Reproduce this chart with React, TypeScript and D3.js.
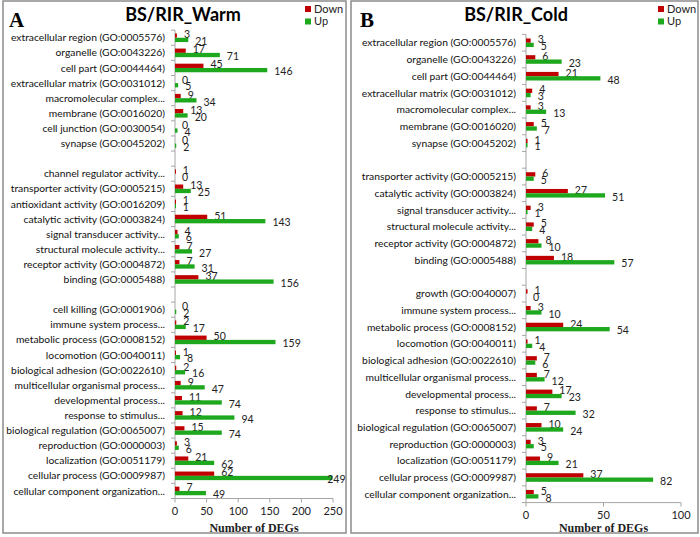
import React from 'react';
import * as d3 from 'd3';

const warmCategories = [
  'extracellular region (GO:0005576)',
  'organelle (GO:0043226)',
  'cell part (GO:0044464)',
  'extracellular matrix (GO:0031012)',
  'macromolecular complex...',
  'membrane (GO:0016020)',
  'cell junction (GO:0030054)',
  'synapse (GO:0045202)',
  '',
  'channel regulator activity...',
  'transporter activity (GO:0005215)',
  'antioxidant activity (GO:0016209)',
  'catalytic activity (GO:0003824)',
  'signal transducer activity...',
  'structural molecule activity...',
  'receptor activity (GO:0004872)',
  'binding (GO:0005488)',
  '',
  'cell killing (GO:0001906)',
  'immune system process...',
  'metabolic process (GO:0008152)',
  'locomotion (GO:0040011)',
  'biological adhesion (GO:0022610)',
  'multicellular organismal process...',
  'developmental process...',
  'response to stimulus...',
  'biological regulation (GO:0065007)',
  'reproduction (GO:0000003)',
  'localization (GO:0051179)',
  'cellular process (GO:0009987)',
  'cellular component organization...',
];
const warmDown: (number | null)[] = [3, 17, 45, 0, 9, 13, 0, 0, null, 1, 13, 1, 51, 4, 7, 7, 37, null, 0, 2, 50, 1, 2, 9, 11, 12, 15, 3, 21, 62, 7];
const warmUp: (number | null)[] = [21, 71, 146, 5, 34, 20, 4, 2, null, 0, 25, 1, 143, 6, 27, 31, 156, null, 2, 17, 159, 8, 16, 47, 74, 94, 74, 6, 62, 249, 49];
const warmTicks = [0, 50, 100, 150, 200, 250];

const coldCategories = [
  'extracellular region (GO:0005576)',
  'organelle (GO:0043226)',
  'cell part (GO:0044464)',
  'extracellular matrix (GO:0031012)',
  'macromolecular complex...',
  'membrane (GO:0016020)',
  'synapse (GO:0045202)',
  '',
  'transporter activity (GO:0005215)',
  'catalytic activity (GO:0003824)',
  'signal transducer activity...',
  'structural molecule activity...',
  'receptor activity (GO:0004872)',
  'binding (GO:0005488)',
  '',
  'growth (GO:0040007)',
  'immune system process...',
  'metabolic process (GO:0008152)',
  'locomotion (GO:0040011)',
  'biological adhesion (GO:0022610)',
  'multicellular organismal process...',
  'developmental process...',
  'response to stimulus...',
  'biological regulation (GO:0065007)',
  'reproduction (GO:0000003)',
  'localization (GO:0051179)',
  'cellular process (GO:0009987)',
  'cellular component organization...',
];
const coldDown: (number | null)[] = [3, 6, 21, 4, 3, 5, 1, null, 6, 27, 3, 5, 8, 18, null, 1, 3, 24, 1, 7, 7, 17, 7, 10, 3, 9, 37, 5];
const coldUp: (number | null)[] = [5, 23, 48, 3, 13, 7, 1, null, 5, 51, 1, 4, 10, 57, null, 0, 10, 54, 4, 6, 12, 23, 32, 24, 5, 21, 82, 8];
const coldTicks = [0, 50, 100];

const legendItems = ['Down', 'Up'];

const RED = '#C00000';
const GREEN = '#1EA81E';
const FONT = 'Lato, "Open Sans", sans-serif';
const SERIF = '"Liberation Serif", "DejaVu Serif", serif';

type Layout = {
  bx: number; by: number; bw: number; bh: number;
  x0: number; x1: number; yTop: number; yBot: number;
  titleX: number; letterX: number; legendX: number;
  tickLabelY: number; axisTitleY: number;
};

function Panel({ layout, cats, down, up, ticks, title, letter }: {
  layout: Layout; cats: string[]; down: (number | null)[]; up: (number | null)[];
  ticks: number[]; title: string; letter: string;
}) {
  const L = layout;
  const x = d3.scaleLinear().domain([0, ticks[ticks.length - 1]]).range([L.x0, L.x1]);
  const y = d3.scaleBand<number>().domain(d3.range(cats.length)).range([L.yTop, L.yBot]);
  const barH = 4.3;
  const colors = [RED, GREEN];
  const boxRight = L.bx + L.bw - 0.5;
  const valueLabel = (v: number, yy: number) => {
    const est = String(v).length * 5.6;
    const overflow = x(v) + 7 + est > boxRight;
    return (
      <text x={overflow ? boxRight : x(v) + 7} y={yy} dy="0.35em" textAnchor={overflow ? 'end' : 'start'}
        fontFamily={FONT} fontSize={10.5} fill="#222">{v}</text>
    );
  };
  return (
    <g>
      <rect x={L.bx} y={L.by} width={L.bw} height={L.bh} fill="#fff" stroke="#8c8c8c" strokeWidth={1.5} />
      <text x={L.letterX} y={27} fontFamily={SERIF} fontWeight="bold" fontSize={21} fill="#000">{letter}</text>
      <text x={L.titleX} y={21} textAnchor="middle" fontFamily={FONT} fontWeight="bold" fontSize={18} fill="#000">{title}</text>
      {legendItems.map((name, i) => (
        <g key={name}>
          <rect x={L.legendX} y={6 + i * 12.5} width={6} height={6} fill={colors[i]} />
          <text x={L.legendX + 9} y={9 + i * 12.5} dy="0.35em" fontFamily={FONT} fontSize={11} fill="#222">{name}</text>
        </g>
      ))}
      {/* y axis */}
      <line x1={L.x0} x2={L.x0} y1={L.yTop} y2={L.yBot} stroke="#a6a6a6" strokeWidth={1} />
      {d3.range(cats.length + 1).map((i) => {
        const yy = i < cats.length ? (y(i) as number) : L.yBot;
        return <line key={'t' + i} x1={L.x0 - 4} x2={L.x0} y1={yy} y2={yy} stroke="#a6a6a6" strokeWidth={1} />;
      })}
      {/* x axis */}
      <line x1={L.x0} x2={L.x1} y1={L.yBot} y2={L.yBot} stroke="#a6a6a6" strokeWidth={1} />
      {ticks.map((t) => (
        <g key={'x' + t}>
          <line x1={x(t)} x2={x(t)} y1={L.yBot} y2={L.yBot + 4} stroke="#a6a6a6" strokeWidth={1} />
          <text x={x(t)} y={L.tickLabelY} dy="0.35em" textAnchor="middle" fontFamily={FONT} fontSize={11} fill="#222">{t}</text>
        </g>
      ))}
      <text x={(L.x0 + L.x1) / 2} y={L.axisTitleY} dy="0.35em" textAnchor="middle" fontFamily={SERIF} fontWeight="bold" fontSize={12} fill="#222">Number of DEGs</text>
      {cats.map((c, i) => {
        const cy = (y(i) as number) + y.bandwidth() / 2;
        const d = down[i];
        const u = up[i];
        return (
          <g key={'c' + i}>
            {c && (
              <text x={L.x0 - 10} y={cy} dy="0.35em" textAnchor="end" fontFamily={FONT} fontSize={10.3} fill="#111">{c}</text>
            )}
            {d !== null && (
              <>
                <rect x={x(0)} y={cy - barH} width={Math.max(x(d) - x(0), d === 0 ? 0 : 1)} height={barH} fill={RED} />
                {valueLabel(d, cy - barH / 2 - 1)}
              </>
            )}
            {u !== null && (
              <>
                <rect x={x(0)} y={cy} width={Math.max(x(u) - x(0), u === 0 ? 0 : 1)} height={barH} fill={GREEN} />
                {valueLabel(u, cy + barH / 2 + 1.5)}
              </>
            )}
          </g>
        );
      })}
    </g>
  );
}

const leftLayout: Layout = {
  bx: 3, by: 1, bw: 343, bh: 532,
  x0: 175, x1: 333, yTop: 30.2, yBot: 498.5,
  titleX: 183, letterX: 9, legendX: 305,
  tickLabelY: 511.5, axisTitleY: 528,
};
const rightLayout: Layout = {
  bx: 351, by: 1, bw: 347, bh: 532,
  x0: 526, x1: 681, yTop: 34.4, yBot: 502.6,
  titleX: 516, letterX: 360, legendX: 658,
  tickLabelY: 515, axisTitleY: 528,
};

export default function App() {
  return (
    <svg width={700} height={537} style={{ position: 'absolute', left: 0, top: 0, background: '#fff' }}>
      <rect x={0} y={0} width={700} height={537} fill="#fff" />
      <Panel layout={leftLayout} cats={warmCategories} down={warmDown} up={warmUp} ticks={warmTicks} title="BS/RIR_Warm" letter="A" />
      <Panel layout={rightLayout} cats={coldCategories} down={coldDown} up={coldUp} ticks={coldTicks} title="BS/RIR_Cold" letter="B" />
    </svg>
  );
}
